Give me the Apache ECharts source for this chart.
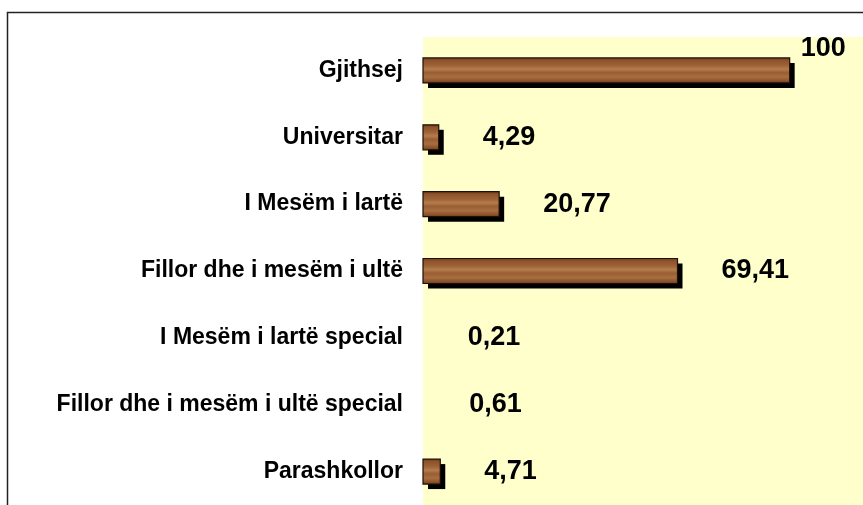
<!DOCTYPE html>
<html>
<head>
<meta charset="utf-8">
<script src="https://cdn.jsdelivr.net/npm/echarts@6/dist/echarts.min.js"></script>
<style>
  html, body { margin: 0; padding: 0; background: #fff; }
  #chart { width: 863px; height: 505px; }
</style>
</head>
<body>
<div id="chart"></div>
<script>
// kategorite, nga lart poshte
const categories = [
  "Gjithsej",
  "Universitar",
  "I Mesëm i lartë",
  "Fillor dhe i mesëm i ultë",
  "I Mesëm i lartë special",
  "Fillor dhe i mesëm i ultë special",
  "Parashkollor"
];
const values = [100, 4.29, 20.77, 69.41, 0.21, 0.61, 4.71];

const chart = echarts.init(document.getElementById("chart"));

const wood = () =>
  new echarts.graphic.LinearGradient(0, 0, 0, 1, [
    { offset: 0, color: "#6a3a1a" },
    { offset: 0.12, color: "#8e532a" },
    { offset: 0.3, color: "#9d6136" },
    { offset: 0.45, color: "#b47d4c" },
    { offset: 0.58, color: "#9a5e33" },
    { offset: 0.75, color: "#a86d40" },
    { offset: 0.9, color: "#8c522a" },
    { offset: 1, color: "#6a3b1c" }
  ]);

const fmt = (v) => String(v).replace(".", ",");

const BAR_H = 25;
const SHADOW = 5;

const renderBar = (params, api) => {
  const v = api.value(0);
  const idx = api.value(1);
  const start = api.coord([0, idx]);
  const end = api.coord([v, idx]);
  const x0 = start[0];
  const x1 = end[0];
  const yc = start[1];
  const w = x1 - x0;
  const children = [];
  // shume te holla per t'u pare ne origjinal
  if (w >= 3) {
    children.push({
      type: "rect",
      shape: { x: x0 + SHADOW, y: yc - BAR_H / 2 + SHADOW, width: w, height: BAR_H },
      style: { fill: "#000" }
    });
    children.push({
      type: "rect",
      shape: { x: x0, y: yc - BAR_H / 2, width: w, height: BAR_H },
      style: { fill: wood(), stroke: "#1c1008", lineWidth: 1.2 }
    });
  }
  const top = params.dataIndex === 0;
  children.push({
    type: "text",
    style: {
      text: fmt(v),
      x: x1 + (top ? 11 : 44),
      y: yc + (top ? -22 : 0),
      align: "left",
      verticalAlign: "middle",
      fill: "#000",
      font: 'bold 27px "Liberation Sans", Arial, sans-serif'
    }
  });
  return { type: "group", children };
};

const option = {
  animation: false,
  backgroundColor: "#fff",
  graphic: [
    {
      type: "rect",
      shape: { x: 7.5, y: 12.5, width: 900, height: 600 },
      style: { fill: "none", stroke: "#222", lineWidth: 1.5 },
      silent: true
    }
  ],
  grid: {
    left: 423,
    right: -3,
    top: 37,
    bottom: 0,
    show: true,
    backgroundColor: "#FFFFCC",
    borderWidth: 0
  },
  xAxis: {
    type: "value",
    min: 0,
    max: 120,
    show: false
  },
  yAxis: {
    type: "category",
    data: categories,
    inverse: true,
    axisLine: { show: false },
    axisTick: { show: false },
    splitLine: { show: false },
    axisLabel: {
      margin: 20,
      color: "#000",
      fontFamily: "Liberation Sans",
      fontWeight: "bold",
      fontSize: 23
    }
  },
  series: [
    {
      type: "custom",
      renderItem: renderBar,
      encode: { x: 0, y: 1 },
      data: values.map((v, i) => [v, i])
    }
  ]
};

chart.setOption(option);
</script>
</body>
</html>
